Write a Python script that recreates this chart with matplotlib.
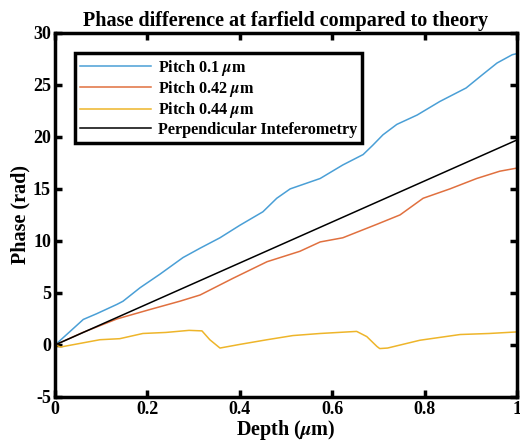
import numpy as np
import matplotlib as mpl
mpl.use('Agg')
import matplotlib.pyplot as plt

plt.rcParams['font.family'] = ['Liberation Serif', 'DejaVu Serif']
plt.rcParams['font.weight'] = 'bold'
plt.rcParams['mathtext.fontset'] = 'stix'
plt.rcParams['axes.unicode_minus'] = False

# values
depth_01 = [0, 0.03, 0.061, 0.09, 0.134, 0.147, 0.184, 0.227, 0.277, 0.314, 0.357,
            0.40, 0.45, 0.48, 0.509, 0.574, 0.623, 0.667, 0.688, 0.71, 0.74, 0.784,
            0.833, 0.89, 0.926, 0.957, 0.99, 1.0]
phase_01 = [0, 1.2, 2.45, 3.0, 3.9, 4.2, 5.5, 6.8, 8.4, 9.3, 10.3,
            11.5, 12.8, 14.1, 15.0, 16.0, 17.3, 18.3, 19.2, 20.2, 21.2, 22.1,
            23.4, 24.7, 26.0, 27.1, 27.9, 28.0]

depth_042 = [0, 0.06, 0.134, 0.205, 0.27, 0.314, 0.385, 0.459, 0.53, 0.574, 0.623,
             0.697, 0.747, 0.797, 0.855, 0.913, 0.963, 1.0]
phase_042 = [0, 1.2, 2.5, 3.4, 4.2, 4.8, 6.4, 8.0, 9.0, 9.9, 10.3,
             11.6, 12.5, 14.1, 15.0, 16.0, 16.7, 17.0]

depth_044 = [0, 0.012, 0.097, 0.14, 0.19, 0.24, 0.29, 0.318, 0.335, 0.357, 0.40,
             0.459, 0.515, 0.574, 0.653, 0.675, 0.697, 0.703, 0.72, 0.79, 0.877,
             0.94, 1.0]
phase_044 = [0, -0.2, 0.5, 0.6, 1.1, 1.2, 1.4, 1.35, 0.5, -0.3, 0.05,
             0.5, 0.9, 1.1, 1.3, 0.8, -0.15, -0.35, -0.3, 0.45, 1.0,
             1.1, 1.25]

depth_theory = [0, 1]
phase_theory = [0, 19.7]

fig = plt.figure(figsize=(5.2, 4.44), dpi=100)
ax = fig.add_axes([0.106, 0.106, 0.888, 0.82])

ax.plot(depth_01, phase_01, color='#4a9fd6', lw=1.1, label=r'Pitch 0.1 $\mu$m')
ax.plot(depth_042, phase_042, color='#e0703f', lw=1.1, label=r'Pitch 0.42 $\mu$m')
ax.plot(depth_044, phase_044, color='#eeb52a', lw=1.1, label=r'Pitch 0.44 $\mu$m')
ax.plot(depth_theory, phase_theory, color='black', lw=1.1, label='Perpendicular Inteferometry')

ax.set_xlim(0, 1)
ax.set_ylim(-5, 30)
ax.set_xticks([0, 0.2, 0.4, 0.6, 0.8, 1])
ax.set_xticklabels(['0', '0.2', '0.4', '0.6', '0.8', '1'])
ax.set_yticks(range(-5, 31, 5))
ax.tick_params(direction='in', length=5, width=2.5, labelsize=13, top=True, right=True, pad=3)
for s in ax.spines.values():
    s.set_linewidth(2.5)

ax.set_xlabel(r'Depth ($\mu$m)', fontsize=14.5, fontweight='bold', labelpad=0)
ax.set_ylabel('Phase (rad)', fontsize=14.5, fontweight='bold', labelpad=2)
ax.set_title('Phase difference at farfield compared to theory', fontsize=14.5, fontweight='bold', pad=5)

leg = ax.legend(loc='upper left', bbox_to_anchor=(0.043, 0.945), borderaxespad=0, fontsize=11.7,
                fancybox=False, framealpha=1, edgecolor='black', handlelength=4.4, borderpad=0.3,
                labelspacing=0.08, handletextpad=0.4)
leg.get_frame().set_linewidth(2.5)

fig.savefig('out.png', dpi=100)
